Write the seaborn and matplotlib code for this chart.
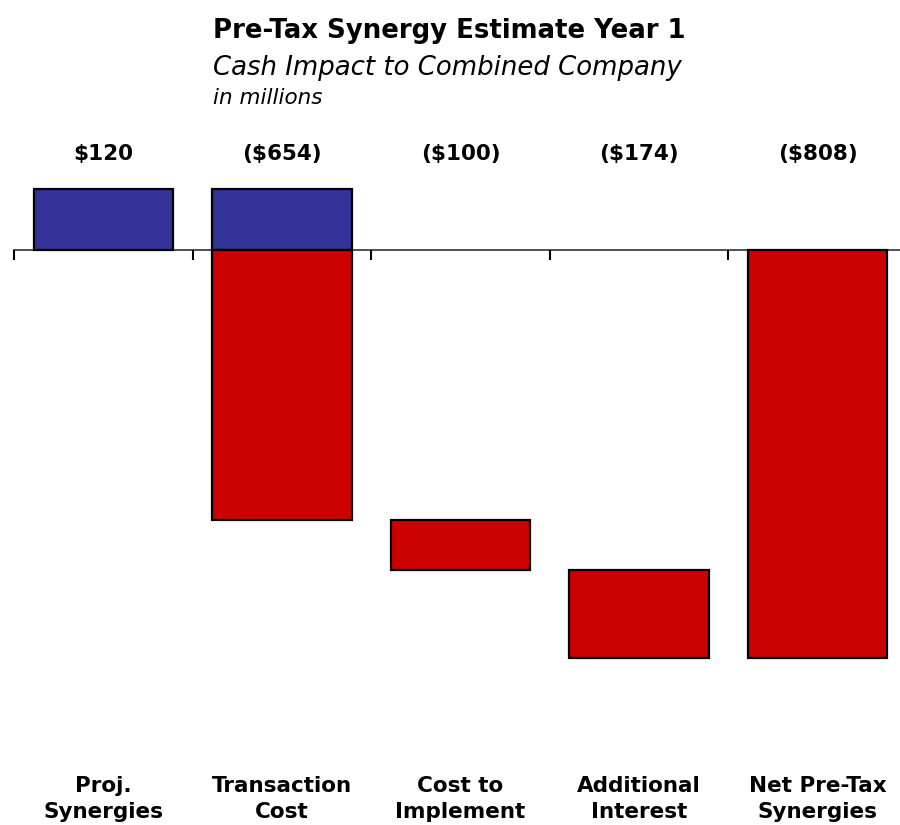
import numpy as np
import pandas as pd
import seaborn as sns
import matplotlib
matplotlib.use("Agg")
import matplotlib.pyplot as plt
import matplotlib.transforms as mtransforms

# data (millions)
categories = ["Proj.\nSynergies", "Transaction\nCost", "Cost to\nImplement",
              "Additional\nInterest", "Net Pre-Tax\nSynergies"]
values = [120, -654, -100, -174, -808]
value_labels = ["$120", "($654)", "($100)", "($174)", "($808)"]

blue = "#333399"
red = "#CC0000"

# waterfall: running start / end for each step, last one is the total
starts, ends = [], []
running = 0
for i, v in enumerate(values):
    if i == len(values) - 1:
        starts.append(0)
        ends.append(v)
    else:
        starts.append(running)
        running += v
        ends.append(running)

df = pd.DataFrame({"category": categories, "start": starts, "end": ends})
df["lo"] = df[["start", "end"]].min(axis=1)
df["hi"] = df[["start", "end"]].max(axis=1)
# split every bar into the part above zero (blue) and below zero (red)
df["pos_bottom"] = df["lo"].clip(lower=0)
df["pos_height"] = df["hi"].clip(lower=0) - df["pos_bottom"]
df["neg_bottom"] = df["lo"].clip(upper=0)
df["neg_height"] = df["hi"].clip(upper=0) - df["neg_bottom"]

sns.set_style("white")
plt.rcParams["font.family"] = ["DejaVu Sans"]
plt.rcParams["text.color"] = "black"

fig = plt.figure(figsize=(9, 8.25), dpi=100)
ax = fig.add_axes([14 / 900, (825 - 740) / 825, 893 / 900, 640 / 825])

pos = df[df["pos_height"] > 0]
neg = df[df["neg_height"] > 0]
sns.barplot(data=pos, x="category", y="pos_height", order=categories, bottom=pos["pos_bottom"].values,
            color=blue, saturation=1, width=0.78, edgecolor="black", linewidth=1.6, ax=ax)
sns.barplot(data=neg, x="category", y="neg_height", order=categories, bottom=neg["neg_bottom"].values,
            color=red, saturation=1, width=0.78, edgecolor="black", linewidth=1.6, ax=ax)

ax.set_xlim(-0.5, len(categories) - 0.5)
ax.set_ylim(-(740 - 250) / 0.505, (250 - 100) / 0.505)

# axis line at zero with ticks between categories
for s in ["top", "right", "left"]:
    ax.spines[s].set_visible(False)
ax.spines["bottom"].set_position(("data", 0))
ax.spines["bottom"].set_color("#333333")
ax.spines["bottom"].set_linewidth(1.2)
ax.spines["bottom"].set_zorder(0)
ax.set_xticks(np.arange(len(categories) + 1) - 0.5)
ax.set_xticklabels([])
ax.tick_params(axis="x", bottom=True, direction="out", length=7, width=1.5, color="black")
ax.set_yticks([])
ax.set_xlabel("")
ax.set_ylabel("")

# value labels above the plot
trans = mtransforms.blended_transform_factory(ax.transData, fig.transFigure)
for i, lab in enumerate(value_labels):
    ax.text(i, 1 - 160 / 825, lab, transform=trans, ha="center", va="baseline",
            fontsize=15.5, fontweight="bold")

# category labels at the bottom
for i, cat in enumerate(categories):
    top, bottom = cat.split("\n")
    ax.text(i, 1 - 792 / 825, top, transform=trans, ha="center", va="baseline",
            fontsize=15.5, fontweight="bold")
    ax.text(i, 1 - 818 / 825, bottom, transform=trans, ha="center", va="baseline",
            fontsize=15.5, fontweight="bold")

fig.text(213 / 900, 1 - 38 / 825, "Pre-Tax Synergy Estimate Year 1", ha="left", va="baseline",
         fontsize=18.7, fontweight="bold")
fig.text(213 / 900, 1 - 75 / 825, "Cash Impact to Combined Company", ha="left", va="baseline",
         fontsize=18.7, style="italic")
fig.text(213 / 900, 1 - 104 / 825, "in millions", ha="left", va="baseline",
         fontsize=15.5, style="italic")

fig.savefig("out.png", dpi=100)
